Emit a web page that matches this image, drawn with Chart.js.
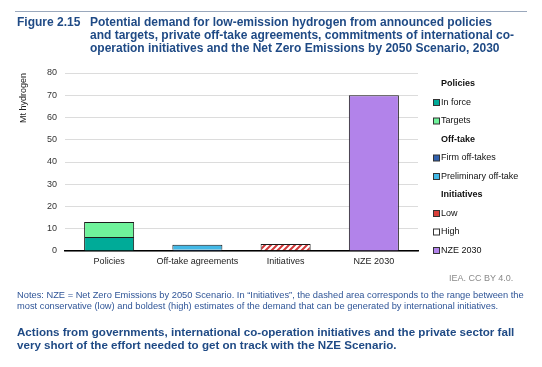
<!DOCTYPE html>
<html>
<head>
<meta charset="utf-8">
<script src="https://cdn.jsdelivr.net/npm/chart.js@4/dist/chart.umd.min.js"></script>
<style>
  html, body { margin:0; padding:0; background:#fff; }
  #page { position:relative; width:542px; height:367px; overflow:hidden; font-family:"Liberation Sans", Arial, sans-serif; }
  #wrap { position:absolute; left:0; top:0; width:542px; height:367px; }
  .rule { position:absolute; left:15px; top:11px; width:512px; height:0; border-top:1px solid #9aa8bc; }
  .fig { position:absolute; left:17px; top:16px; font-weight:bold; font-size:12px; line-height:13px; color:#1f4a85; white-space:nowrap; }
  .ttl { position:absolute; left:90px; top:16px; font-weight:bold; font-size:12px; line-height:13px; color:#1f4a85; white-space:nowrap; }
  .src { position:absolute; left:449px; top:272.5px; font-size:9px; line-height:10px; color:#8a8a8a; white-space:nowrap; }
  .notes { position:absolute; left:17px; top:290px; font-size:9.3px; line-height:11px; color:#2f5597; white-space:nowrap; }
  .msg { position:absolute; left:17px; top:326px; font-weight:bold; font-size:11.6px; line-height:12.5px; color:#1f4a85; white-space:nowrap; }
</style>
</head>
<body>
<div id="page">
  <div id="wrap"><canvas id="c" width="542" height="367"></canvas></div>
  <div class="rule"></div>
  <div class="fig">Figure 2.15</div>
  <div class="ttl">Potential demand for low-emission hydrogen from announced policies<br>and targets, private off-take agreements, commitments of international co-<br>operation initiatives and the Net Zero Emissions by 2050 Scenario, 2030</div>
  <div class="src">IEA. CC BY 4.0.</div>
  <div class="notes">Notes: NZE = Net Zero Emissions by 2050 Scenario. In “Initiatives”, the dashed area corresponds to the range between the<br>most conservative (low) and boldest (high) estimates of the demand that can be generated by international initiatives.</div>
  <div class="msg">Actions from governments, international co-operation initiatives and the private sector fall<br>very short of the effort needed to get on track with the NZE Scenario.</div>
</div>
<script>
// ---- data ----
const categories = ["Policies", "Off-take agreements", "Initiatives", "NZE 2030"];
const inForce     = [6.3, null, null, null];
const targets     = [6.7, null, null, null];
const firmOfftake = [null, 0.6, null, null];
const prelimOfftake = [null, 2.2, null, null];
const initLow     = [null, null, 0.3, null];
const initHigh    = [null, null, 2.8, null];
const nze2030     = [null, null, null, 70];
const yTicks = [0, 10, 20, 30, 40, 50, 60, 70, 80];
const legendGroups = [
  { header: "Policies", items: ["In force", "Targets"] },
  { header: "Off-take", items: ["Firm off-takes", "Preliminary off-take"] },
  { header: "Initiatives", items: ["Low", "High", "NZE 2030"] }
];

// hatch pattern for the initiative range
function hatch() {
  const s = 6;
  const pc = document.createElement('canvas');
  pc.width = s; pc.height = s;
  const g = pc.getContext('2d');
  g.fillStyle = '#ffffff'; g.fillRect(0, 0, s, s);
  g.strokeStyle = '#d2393a'; g.lineWidth = 2;
  g.beginPath();
  g.moveTo(-1, s + 1); g.lineTo(s + 1, -1);
  g.moveTo(-1, 1); g.lineTo(1, -1);
  g.moveTo(s - 1, s + 1); g.lineTo(s + 1, s - 1);
  g.stroke();
  return document.getElementById('c').getContext('2d').createPattern(pc, 'repeat');
}

const colors = {
  "In force": "#00ab98",
  "Targets": "#6ff39b",
  "Firm off-takes": "#3160ad",
  "Preliminary off-take": "#42b8e6",
  "Low": "#d9403a",
  "High": "#ffffff",
  "NZE 2030": "#b283ea"
};

function ds(label, data, fill) {
  return { label, data, backgroundColor: fill || colors[label], borderColor: '#1b1b1b', borderWidth: 1,
           barPercentage: 0.567, categoryPercentage: 1, skipNull: true };
}

const legendPlugin = {
  id: 'groupLegend',
  afterDraw(chart) {
    const ctx = chart.ctx;
    const x0 = chart.chartArea.right;
    let y = 84;
    const step = 18.5;
    ctx.save();
    ctx.textBaseline = 'middle';
    legendGroups.forEach(gr => {
      ctx.font = 'bold 9px "Liberation Sans", Arial, sans-serif';
      ctx.fillStyle = '#111';
      ctx.fillText(gr.header, x0 + 23, y);
      y += step;
      gr.items.forEach(it => {
        ctx.fillStyle = colors[it];
        ctx.fillRect(x0 + 15.5, y - 3, 6, 6);
        ctx.strokeStyle = '#333'; ctx.lineWidth = 1;
        ctx.strokeRect(x0 + 15.5, y - 3, 6, 6);
        ctx.font = '9px "Liberation Sans", Arial, sans-serif';
        ctx.fillStyle = '#111';
        ctx.fillText(it, x0 + 23, y);
        y += step;
      });
    });
    ctx.restore();
  }
};

new Chart(document.getElementById('c'), {
  type: 'bar',
  data: {
    labels: categories,
    datasets: [
      ds("In force", inForce),
      ds("Targets", targets),
      ds("Firm off-takes", firmOfftake),
      ds("Preliminary off-take", prelimOfftake),
      ds("Low", initLow),
      ds("High", initHigh, hatch()),
      ds("NZE 2030", nze2030)
    ]
  },
  options: {
    responsive: false,
    animation: false,
    devicePixelRatio: 1,
    layout: { padding: { top: 73, right: 124, left: 0, bottom: 0 } },
    plugins: { legend: { display: false }, tooltip: { enabled: false }, title: { display: false } },
    scales: {
      x: {
        stacked: true,
        grid: { display: false, drawTicks: false },
        border: { display: true, color: '#000', width: 1.5 },
        ticks: { color: '#222', font: { size: 9, family: '"Liberation Sans", Arial, sans-serif' }, padding: 5, maxRotation: 0 },
        afterFit(s) { s.height = 116; }
      },
      y: {
        stacked: true,
        min: 0, max: 80,
        afterBuildTicks(s) { s.ticks = yTicks.map(v => ({ value: v })); },
        grid: { color: '#dcdcdc', lineWidth: 1, drawTicks: false },
        border: { display: false },
        ticks: { color: '#333', font: { size: 9, family: '"Liberation Sans", Arial, sans-serif' }, padding: 8 },
        title: { display: true, text: 'Mt hydrogen', align: 'end', color: '#222',
                 font: { size: 9, family: '"Liberation Sans", Arial, sans-serif' }, padding: { top: 18, bottom: 0 } },
        afterFit(s) { s.width = 65; }
      }
    }
  },
  plugins: [legendPlugin]
});
</script>
</body>
</html>
